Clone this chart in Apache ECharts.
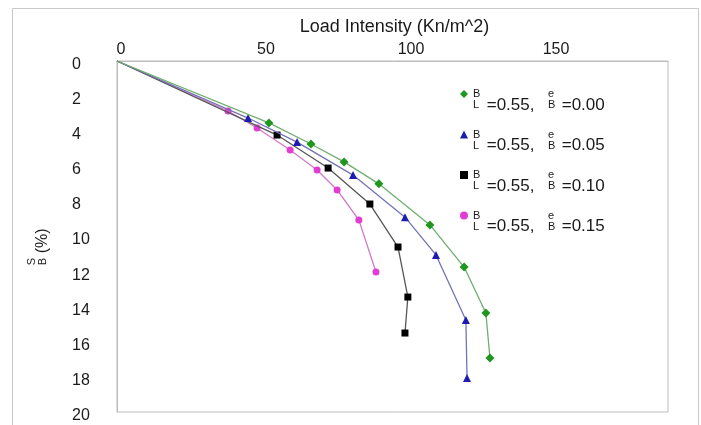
<!DOCTYPE html>
<html>
<head>
<meta charset="utf-8">
<script src="https://cdn.jsdelivr.net/npm/echarts@6/dist/echarts.min.js"></script>
<style>
html,body{margin:0;padding:0;background:#fff;}
#chart{width:701px;height:425px;}
</style>
</head>
<body>
<div id="chart"></div>
<script>
// ---- data ----
const xTicks = [0, 50, 100, 150];
const yTicks = [0, 2, 4, 6, 8, 10, 12, 14, 16, 18, 20];
const ratioBL = '0.55';
const eccB = ['0.00', '0.05', '0.10', '0.15'];

const loadGreen = [0, 52.4, 66.9, 78.3, 90.3, 107.9, 119.7, 127.2, 128.6];
const settleGreen = [0, 3.53, 4.73, 5.75, 7.0, 9.34, 11.74, 14.36, 16.92];

const loadBlue = [0, 45.2, 62.1, 81.4, 99.3, 110.0, 120.3, 120.7];
const settleBlue = [0, 3.25, 4.62, 6.5, 8.9, 11.05, 14.76, 18.06];

const loadBlack = [0, 55.2, 72.8, 87.2, 96.9, 100.3, 99.3];
const settleBlack = [0, 4.22, 6.1, 8.15, 10.6, 13.45, 15.5];

const loadPink = [0, 38.3, 48.3, 59.7, 69.0, 75.9, 83.4, 89.3];
const settlePink = [0, 2.85, 3.82, 5.07, 6.21, 7.35, 9.06, 12.02];

// ---- build ----
const FONT = '"Liberation Sans", Arial, sans-serif';
const names = eccB.map(e => 'B/L=' + ratioBL + ', e/B=' + e);

function pairs(xs, ys) {
  return xs.map((x, i) => i === 0 ? { value: [x, ys[i]], symbol: 'none' } : [x, ys[i]]);
}

const styles = [
  { line: '#6fae6f', mark: '#1f961f', symbol: 'diamond', size: 9, xs: loadGreen, ys: settleGreen },
  { line: '#7373b5', mark: '#1c1cb0', symbol: 'triangle', size: 8, xs: loadBlue, ys: settleBlue },
  { line: '#555555', mark: '#000000', symbol: 'rect', size: 7, xs: loadBlack, ys: settleBlack },
  { line: '#d27acb', mark: '#e23cd2', symbol: 'circle', size: 7, xs: loadPink, ys: settlePink }
];

const series = styles.map((s, i) => ({
  name: names[i],
  type: 'line',
  data: pairs(s.xs, s.ys),
  symbol: s.symbol,
  symbolSize: s.size,
  lineStyle: { color: s.line, width: 1.3 },
  itemStyle: { color: s.mark },
  z: 10 - i
}));

const chart = echarts.init(document.getElementById('chart'), null, { renderer: 'canvas' });
chart.setOption({
  animation: false,
  backgroundColor: '#ffffff',
  textStyle: { fontFamily: FONT },
  graphic: [{
    type: 'rect', silent: true, z: -10,
    shape: { x: 12.5, y: 8.5, width: 686, height: 440 },
    style: { fill: 'none', stroke: '#c8c8c8', lineWidth: 1 }
  }],
  grid: {
    left: 117, top: 61, width: 551, height: 351,
    show: true, borderColor: '#bdbdbd', borderWidth: 1
  },
  xAxis: {
    type: 'value', position: 'top', min: 0, max: 190, interval: 50,
    name: 'Load Intensity (Kn/m^2)', nameLocation: 'middle', nameGap: 25,
    nameTextStyle: { fontSize: 18, color: '#1a1a1a', fontFamily: FONT, padding: [0, 0, 0, 4] },
    axisLine: { show: true, lineStyle: { color: '#bdbdbd' } },
    axisTick: { show: false },
    splitLine: { show: false },
    axisLabel: {
      fontSize: 16, color: '#1a1a1a', margin: 3, fontFamily: FONT,
      padding: [0, 0, 0, 8],
      showMaxLabel: false,
      formatter: v => (xTicks.indexOf(v) >= 0 ? String(v) : '')
    }
  },
  yAxis: {
    type: 'value', inverse: true, min: 0, max: 20, interval: 2,
    name: '{n|S}{sp|}\n{d|B}{t| (%)}', nameLocation: 'middle', nameGap: 68, nameRotate: 90,
    nameTextStyle: {
      color: '#1a1a1a', fontFamily: FONT, padding: [0, 22, 0, 0],
      rich: {
        n: { fontSize: 11, width: 9, lineHeight: 10, color: '#1a1a1a' },
        d: { fontSize: 11, width: 9, lineHeight: 12, color: '#1a1a1a' },
        sp: { width: 28, lineHeight: 10 },
        t: { fontSize: 16, width: 28, lineHeight: 12, color: '#1a1a1a' }
      }
    },
    axisLine: { show: true, lineStyle: { color: '#bdbdbd' } },
    axisTick: { show: false },
    splitLine: { show: false },
    axisLabel: {
      fontSize: 16, color: '#1a1a1a', margin: 45, align: 'left', fontFamily: FONT,
      verticalAlign: 'top', lineHeight: 7,
      formatter: v => (yTicks.indexOf(v) >= 0 ? String(v) : '')
    }
  },
  legend: {
    orient: 'vertical', left: 455, top: 73,
    itemWidth: 8, itemHeight: 8, itemGap: 5,
    data: names.map((n, i) => ({ name: n, icon: styles[i].symbol })),
    formatter: function (name) {
      const i = names.indexOf(name);
      return '{z| }\n{n|B}{sp|}{n|e}\n{d|L}{m| =' + ratioBL + ', }{d|B}{m2| =' + eccB[i] + '}';
    },
    textStyle: {
      fontFamily: FONT, color: '#1a1a1a', fontSize: 17,
      rich: {
        z: { fontSize: 10, lineHeight: 12 },
        n: { fontSize: 11, lineHeight: 10, width: 9, color: '#1a1a1a' },
        sp: { width: 66, lineHeight: 10 },
        d: { fontSize: 11, lineHeight: 12, width: 9, color: '#1a1a1a' },
        m: { fontSize: 17, lineHeight: 12, width: 66, color: '#1a1a1a' },
        m2: { fontSize: 17, lineHeight: 12, color: '#1a1a1a' }
      }
    }
  },
  series: series
});
</script>
</body>
</html>
